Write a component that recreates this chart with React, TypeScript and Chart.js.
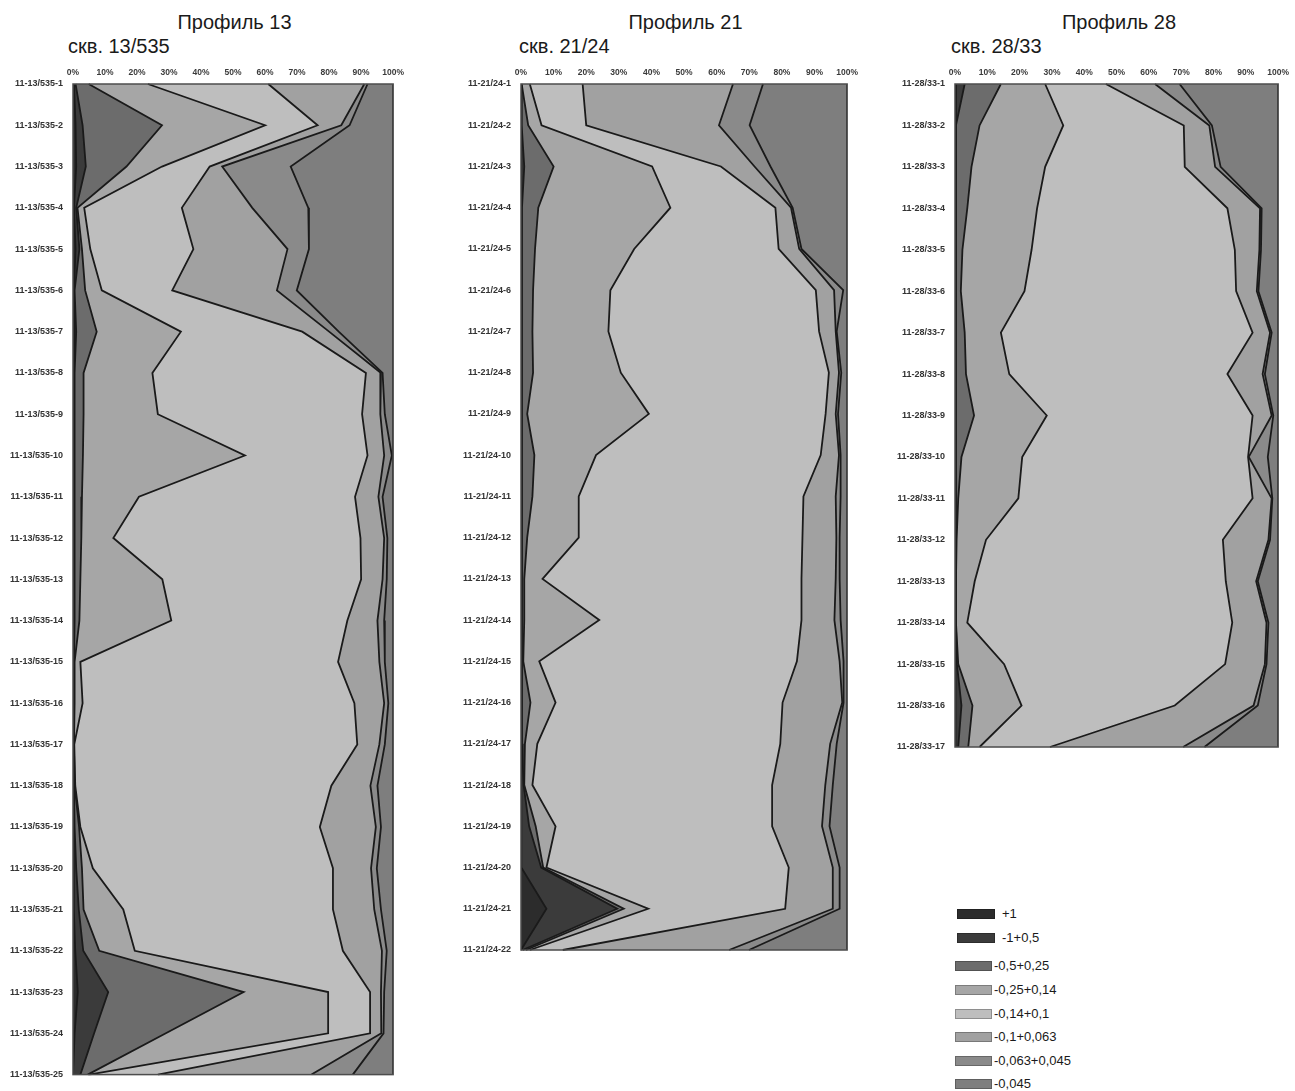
import React, { useEffect, useRef } from "react";
import { Chart, registerables } from "chart.js";

Chart.register(...registerables);

const FONT = "'Liberation Sans', Arial, sans-serif";

// Fraction classes (legend order = stacking order, left to right)
const classLabels = ["+1", "-1+0,5", "-0,5+0,25", "-0,25+0,14", "-0,14+0,1", "-0,1+0,063", "-0,063+0,045", "-0,045"];
const classColors = ["#2c2c2c", "#3b3b3b", "#6c6c6c", "#a6a6a6", "#bebebe", "#a1a1a1", "#8a8a8a", "#7e7e7e"];

const xTickValues = [0, 10, 20, 30, 40, 50, 60, 70, 80, 90, 100];

// ---------- Профиль 13, скв. 13/535 ----------
const p13Samples = [
  "11-13/535-1", "11-13/535-2", "11-13/535-3", "11-13/535-4", "11-13/535-5", "11-13/535-6", "11-13/535-7",
  "11-13/535-8", "11-13/535-9", "11-13/535-10", "11-13/535-11", "11-13/535-12", "11-13/535-13", "11-13/535-14",
  "11-13/535-15", "11-13/535-16", "11-13/535-17", "11-13/535-18", "11-13/535-19", "11-13/535-20", "11-13/535-21",
  "11-13/535-22", "11-13/535-23", "11-13/535-24", "11-13/535-25",
];
const p13_plus1 = [0.3, 0.8, 1, 0.3, 0.8, 0.3, 0.5, 0.3, 0.3, 0.3, 0.3, 0.3, 0.3, 0.3, 0.2, 0.2, 0.2, 0.2, 0.2, 0.2, 0.2, 0.7, 1.5, 0.5, 0];
const p13_1_05 = [0.5, 2.2, 3, 0.7, 1.2, 0.2, 0.5, 0.2, 0.2, 0.2, 0.2, 0.2, 0.2, 0.2, 0.1, 0.1, 0.1, 0.1, 0.3, 0.8, 1.6, 2.5, 9.5, 6.1, 2.3];
const p13_05_025 = [4.1, 24.8, 12.7, 0.4, 0.8, 3.3, 6.4, 2.8, 2.8, 2.6, 2.3, 2.1, 1.8, 1.5, 0.2, 0.2, 0, 0.2, 1.4, 1.8, 1.5, 5, 42.3, 22.4, 2.3];
const p13_025_014 = [18.5, 32.2, 11.1, 2.1, 2.6, 5.2, 26.3, 21.5, 23.2, 50.6, 17.8, 10, 25.6, 28.7, 1.8, 2.5, 0.1, 0.2, 0.4, 3.4, 12.4, 11.1, 26.4, 50.7, 0.4];
const p13_014_01 = [37.6, 16.4, 14.9, 30.5, 32.2, 22, 37.9, 66.7, 63.8, 38.3, 67.5, 77.2, 62.1, 55, 80.5, 84.9, 88.4, 80, 74.8, 75, 65.5, 65, 13.1, 13.1, 21.5];
const p13_01_0063 = [30, 7.4, 3.9, 22, 29.4, 32.7, 8.4, 4.7, 5.7, 5.2, 7.3, 7.4, 6.7, 9.4, 12.9, 9.3, 6.9, 12.2, 17.5, 11.9, 12.9, 12.2, 3.4, 3.5, 48];
const p13_0063_0045 = [1, 2.6, 21.4, 17.5, 6.7, 6.2, 3, 0.5, 1.4, 2.4, 1.3, 1, 1.3, 2.1, 1.7, 1.3, 1.7, 2.2, 1.6, 1.8, 2.1, 1.5, 1, 0.7, 12.9];
const p13_0045 = [8, 13.6, 32, 26.5, 26.3, 30.1, 17, 3.3, 2.6, 0.4, 3.3, 1.8, 2, 2.8, 2.6, 1.5, 2.6, 4.9, 3.8, 5.1, 3.8, 2, 2.8, 3, 12.6];

// ---------- Профиль 21, скв. 21/24 ----------
const p21Samples = [
  "11-21/24-1", "11-21/24-2", "11-21/24-3", "11-21/24-4", "11-21/24-5", "11-21/24-6", "11-21/24-7", "11-21/24-8",
  "11-21/24-9", "11-21/24-10", "11-21/24-11", "11-21/24-12", "11-21/24-13", "11-21/24-14", "11-21/24-15",
  "11-21/24-16", "11-21/24-17", "11-21/24-18", "11-21/24-19", "11-21/24-20", "11-21/24-21", "11-21/24-22",
];
const p21_plus1 = [0, 0, 0.2, 0.1, 0.1, 0.1, 0.1, 0.1, 0.1, 0.1, 0.1, 0.1, 0.1, 0.1, 0.1, 0.1, 0.1, 0.1, 0.1, 0, 7.8, 0];
const p21_1_05 = [0, 0.2, 0.8, 0.2, 0.2, 0.2, 0.2, 0.2, 0.2, 0.2, 0.2, 0.2, 0.2, 0.2, 0.2, 0.2, 0.2, 0.7, 2.4, 6.2, 21.7, 0.5];
const p21_05_025 = [0.2, 2, 9, 5, 4, 3.4, 3.2, 3.4, 1.6, 3.8, 3.2, 1.6, 0.7, 0.7, 0.4, 2.6, 0.9, 0.2, 2, 0.6, 2, 1];
const p21_025_014 = [2.5, 4.1, 30.2, 40.5, 30.4, 23.7, 23.3, 26.9, 37.3, 18.9, 14.2, 15.8, 5.6, 23, 4.9, 7.7, 3.8, 2.5, 6.1, 1, 7.5, 1.2];
const p21_014_01 = [16.2, 13.7, 21.1, 32.2, 44.3, 63, 64.6, 63.8, 54.2, 68.9, 68.9, 68.6, 79.4, 62, 79, 69.6, 74.5, 73.5, 66.4, 74.3, 42, 10.1];
const p21_01_0063 = [46.1, 40.7, 10.3, 4.8, 6.3, 5.6, 5.1, 3.1, 3.1, 5.6, 9.9, 10.4, 10.5, 10.1, 13.1, 18.3, 15.3, 16.3, 15.3, 13.5, 14.6, 51];
const p21_0063_0045 = [9.2, 9.4, 4.9, 0.5, 0.7, 2.8, 0.3, 0.7, 0.7, 0.5, 1.5, 1, 1.2, 1.9, 1.2, 0.4, 2, 2.3, 2.3, 2.1, 2.1, 6.1];
const p21_0045 = [25.8, 29.9, 23.5, 16.7, 14, 1.2, 3.2, 1.8, 2.8, 2, 2, 2.3, 2.3, 2, 1.1, 1.1, 3.2, 4.4, 5.4, 2.3, 2.3, 30.1];

// ---------- Профиль 28, скв. 28/33 ----------
const p28Samples = [
  "11-28/33-1", "11-28/33-2", "11-28/33-3", "11-28/33-4", "11-28/33-5", "11-28/33-6", "11-28/33-7", "11-28/33-8",
  "11-28/33-9", "11-28/33-10", "11-28/33-11", "11-28/33-12", "11-28/33-13", "11-28/33-14", "11-28/33-15",
  "11-28/33-16", "11-28/33-17",
];
const p28_plus1 = [0.3, 0.1, 0.1, 0.1, 0.1, 0.1, 0.1, 0.1, 0.1, 0.1, 0.1, 0.1, 0.1, 0.1, 0.2, 0.3, 0.3];
const p28_1_05 = [2.7, 0.2, 0.2, 0.2, 0.2, 0.2, 0.2, 0.2, 0.2, 0.2, 0.2, 0.2, 0.1, 0.1, 0.4, 1.7, 0.7];
const p28_05_025 = [11.2, 7.3, 4.8, 3.5, 2, 1.5, 2.7, 3.1, 5.6, 1.7, 0.7, 0.2, 0.1, 0.1, 0.4, 3.4, 3.1];
const p28_025_014 = [13.7, 25.9, 22.8, 21.6, 21.4, 19.7, 11.2, 13.4, 22.5, 18.8, 18.6, 9.1, 5.8, 3.5, 14.2, 15.2, 3.5];
const p28_014_01 = [18.8, 37.3, 43.2, 58.9, 62.9, 65.5, 77.9, 67.5, 63.7, 69.9, 72.5, 73.3, 77.7, 82, 68.4, 47.4, 21.8];
const p28_01_0063 = [15.2, 7.9, 9.4, 10.1, 7.6, 6.4, 5.4, 10.9, 5.9, 0.2, 5.9, 14.1, 9.4, 10.6, 12.3, 24.4, 41.2];
const p28_0063_0045 = [7.6, 0.8, 1.7, 0.5, 0.5, 0.5, 0.5, 0.7, 0.5, 5.9, 0.2, 0.5, 0.5, 0.6, 0.5, 1.3, 6.6];
const p28_0045 = [30.5, 20.5, 17.8, 5.1, 5.3, 6.1, 2, 4.1, 1.5, 3.2, 1.8, 2.5, 6.3, 3, 3.6, 6.3, 22.8];

type PanelDef = {
  title: string;
  subtitle: string;
  labels: string[];
  series: number[][];
  canvasLeft: number;
  canvasTop: number;
  canvasWidth: number;
  canvasHeight: number;
  axisWidth: number;
  padRight: number;
  padBottom: number;
  subtitleLeft: number;
};

const panels: PanelDef[] = [
  {
    title: "Профиль 13",
    subtitle: "скв. 13/535",
    labels: p13Samples,
    series: [p13_plus1, p13_1_05, p13_05_025, p13_025_014, p13_014_01, p13_01_0063, p13_0063_0045, p13_0045],
    canvasLeft: 0, canvasTop: 62, canvasWidth: 410, canvasHeight: 1028,
    axisWidth: 73, padRight: 14, padBottom: 15, subtitleLeft: 68,
  },
  {
    title: "Профиль 21",
    subtitle: "скв. 21/24",
    labels: p21Samples,
    series: [p21_plus1, p21_1_05, p21_05_025, p21_025_014, p21_014_01, p21_01_0063, p21_0063_0045, p21_0045],
    canvasLeft: 445, canvasTop: 62, canvasWidth: 419, canvasHeight: 905,
    axisWidth: 76, padRight: 14, padBottom: 17, subtitleLeft: 519,
  },
  {
    title: "Профиль 28",
    subtitle: "скв. 28/33",
    labels: p28Samples,
    series: [p28_plus1, p28_1_05, p28_05_025, p28_025_014, p28_014_01, p28_01_0063, p28_0063_0045, p28_0045],
    canvasLeft: 880, canvasTop: 62, canvasWidth: 415, canvasHeight: 702,
    axisWidth: 75, padRight: 12, padBottom: 17, subtitleLeft: 951,
  },
];

const framePlugin = {
  id: "plotFrame",
  afterDraw(chart: any) {
    const { ctx, chartArea } = chart;
    const { left, top, right, bottom } = chartArea;
    ctx.save();
    ctx.strokeStyle = "#4d4d4d";
    ctx.lineWidth = 1.5;
    ctx.strokeRect(left, top, right - left, bottom - top);
    ctx.restore();
  },
};

function Panel({ def }: { def: PanelDef }) {
  const ref = useRef<HTMLCanvasElement | null>(null);

  useEffect(() => {
    if (!ref.current) return;
    const datasets = def.series.map((vals, i) => ({
      label: classLabels[i],
      data: vals,
      backgroundColor: classColors[i],
      borderColor: "#1a1a1a",
      borderWidth: 1.8,
      pointRadius: 0,
      tension: 0,
      fill: i === 0 ? "origin" : "-1",
    }));
    const chart = new Chart(ref.current, {
      type: "line",
      data: { labels: def.labels, datasets: datasets as any },
      options: {
        indexAxis: "y",
        animation: false,
        responsive: false,
        events: [],
        layout: { padding: { left: 0, top: 0, right: def.padRight, bottom: def.padBottom } },
        plugins: {
          legend: { display: false },
          tooltip: { enabled: false },
        },
        scales: {
          x: {
            type: "linear",
            position: "top",
            min: 0,
            max: 100,
            stacked: true,
            z: 1,
            afterBuildTicks: (scale: any) => {
              scale.ticks = xTickValues.map((v) => ({ value: v }));
            },
            ticks: {
              callback: (v: any) => `${v}%`,
              font: { family: FONT, size: 8.5, weight: "bold" },
              color: "#3a3a3a",
              padding: 6,
              maxRotation: 0,
              autoSkip: false,
            },
            grid: { color: "rgba(210,210,210,0.32)", lineWidth: 1, drawTicks: false },
            border: { display: false },
            afterFit: (scale: any) => {
              scale.height = 22;
            },
          },
          y: {
            type: "category",
            position: "left",
            offset: false,
            z: 1,
            ticks: {
              font: { family: FONT, size: 9, weight: "bold" },
              color: "#333333",
              padding: 10,
              autoSkip: false,
            },
            grid: { color: "rgba(210,210,210,0.32)", lineWidth: 1, drawTicks: false },
            border: { display: false },
            afterFit: (scale: any) => {
              scale.width = def.axisWidth;
            },
          },
        },
      } as any,
      plugins: [framePlugin],
    });
    return () => chart.destroy();
  }, [def]);

  const plotLeft = def.canvasLeft + def.axisWidth;
  const plotWidth = def.canvasWidth - def.axisWidth - def.padRight;

  return (
    <>
      <div
        style={{
          position: "absolute",
          left: plotLeft,
          width: plotWidth,
          top: 11,
          textAlign: "center",
          fontFamily: FONT,
          fontSize: 20,
          lineHeight: "22px",
          color: "#1a1a1a",
          whiteSpace: "nowrap",
        }}
      >
        {def.title}
      </div>
      <div
        style={{
          position: "absolute",
          left: def.subtitleLeft,
          top: 35,
          fontFamily: FONT,
          fontSize: 20,
          lineHeight: "22px",
          color: "#1a1a1a",
          whiteSpace: "nowrap",
        }}
      >
        {def.subtitle}
      </div>
      <canvas
        ref={ref}
        width={def.canvasWidth}
        height={def.canvasHeight}
        style={{
          position: "absolute",
          left: def.canvasLeft,
          top: def.canvasTop,
          width: def.canvasWidth,
          height: def.canvasHeight,
        }}
      />
    </>
  );
}

function Legend() {
  const rowTops = [908, 932, 960, 984, 1008, 1031, 1055, 1078];
  return (
    <>
      {classLabels.map((lab, i) => (
        <div
          key={lab}
          style={{
            position: "absolute",
            left: i < 2 ? 957 : 955,
            top: rowTops[i],
            height: 11,
            display: "flex",
            alignItems: "center",
            fontFamily: FONT,
            fontSize: 13,
            color: "#1a1a1a",
            whiteSpace: "nowrap",
          }}
        >
          <span
            style={{
              display: "inline-block",
              width: i < 2 ? 38 : 37,
              height: 10,
              background: classColors[i],
              border: "1px solid rgba(0,0,0,0.25)",
              boxSizing: "border-box",
              marginRight: i < 2 ? 7 : 2,
            }}
          />
          <span style={{ lineHeight: "11px" }}>{lab}</span>
        </div>
      ))}
    </>
  );
}

export default function App() {
  return (
    <div
      style={{
        position: "fixed",
        left: 0,
        top: 0,
        width: 1295,
        height: 1091,
        overflow: "hidden",
        background: "#ffffff",
      }}
    >
      {panels.map((p) => (
        <Panel key={p.title} def={p} />
      ))}
      <Legend />
    </div>
  );
}
